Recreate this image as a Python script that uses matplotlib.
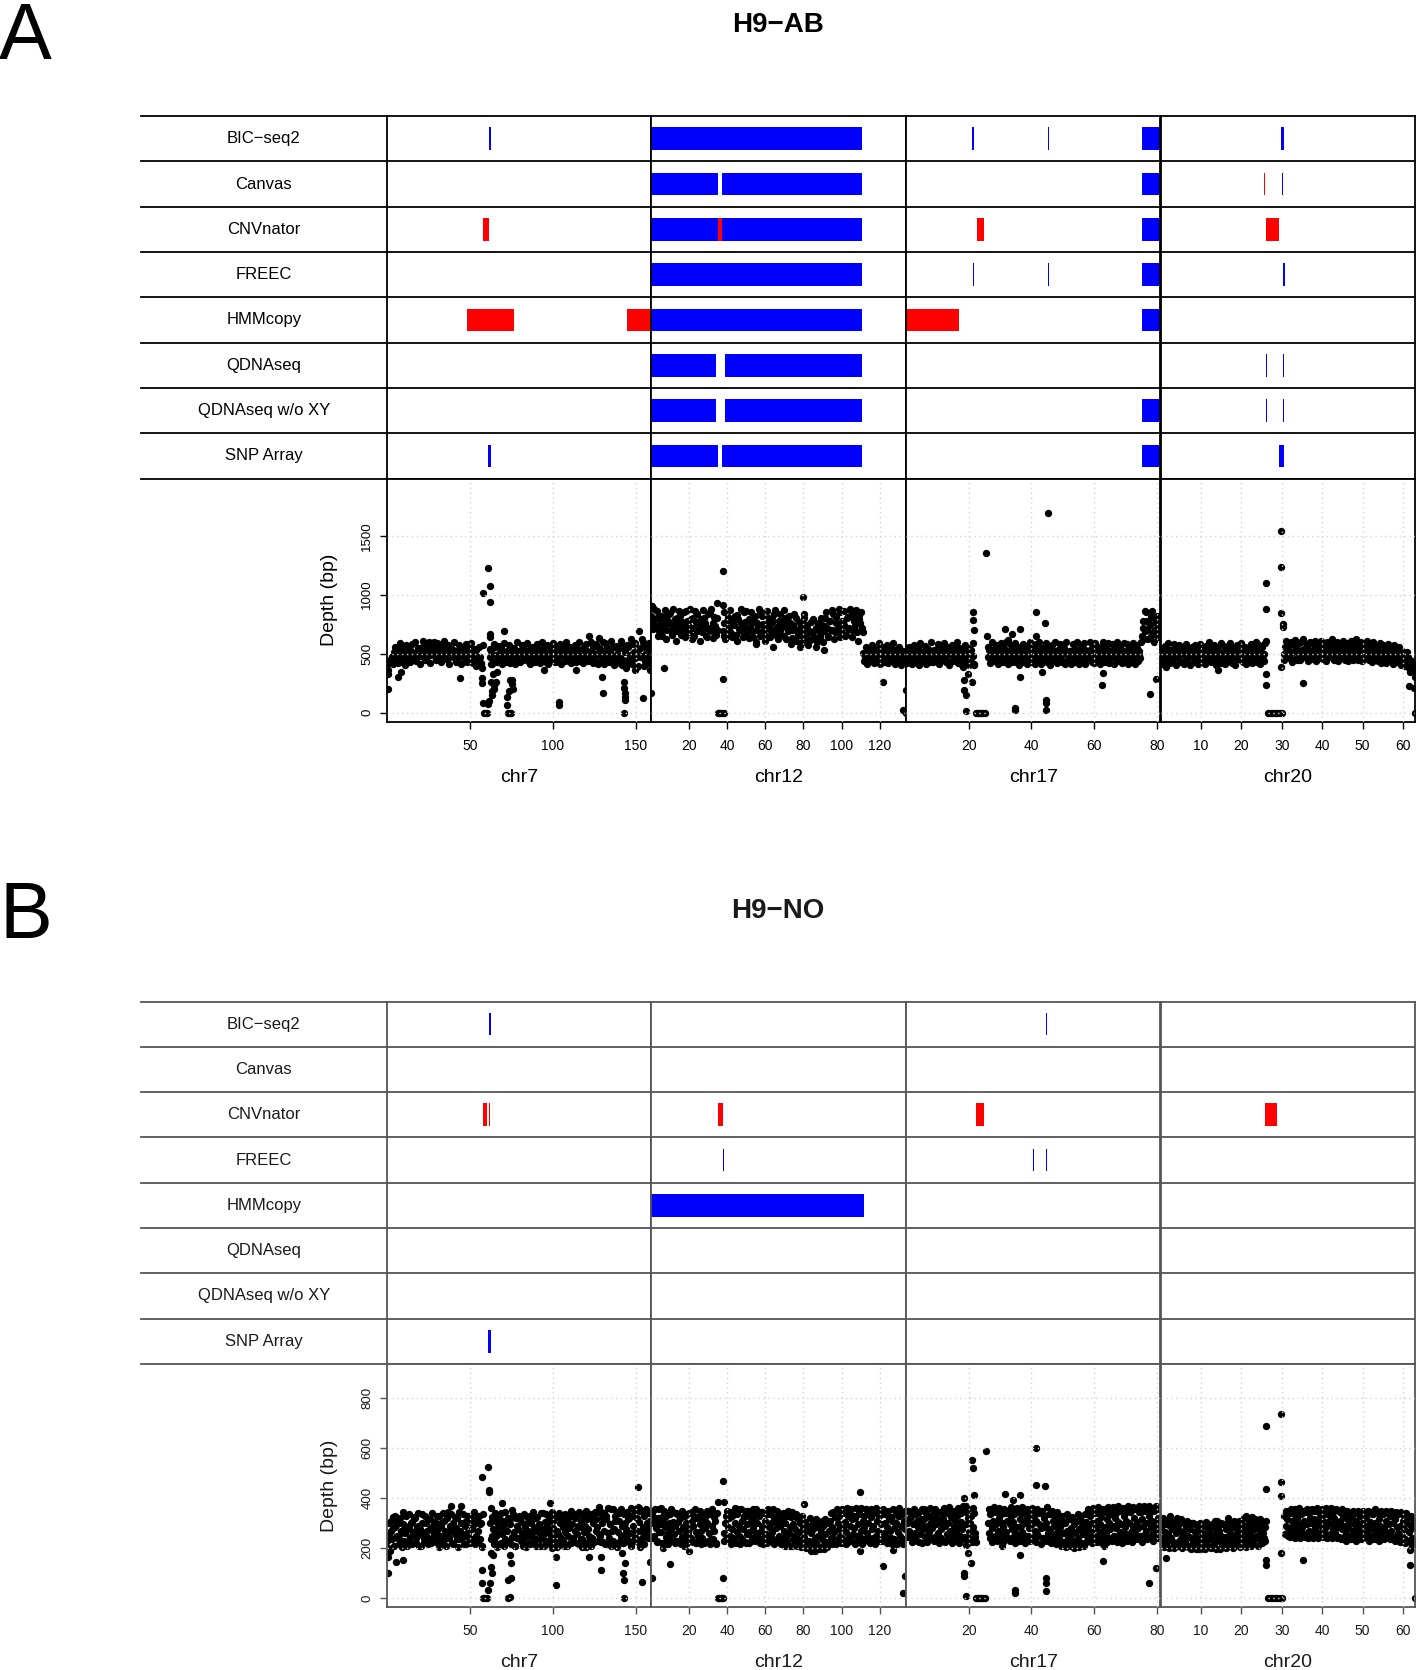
import numpy as np
import matplotlib.pyplot as plt

plt.rcParams['font.family'] = ['Liberation Sans', 'DejaVu Sans']

nan = np.nan

methods = ['BIC−seq2', 'Canvas', 'CNVnator', 'FREEC', 'HMMcopy',
           'QDNAseq', 'QDNAseq w/o XY', 'SNP Array']
chroms = ['chr7', 'chr12', 'chr17', 'chr20']
chrom_len = [159.1, 133.85, 81.2, 63.03]
chrom_ticks = [[50, 100, 150], [20, 40, 60, 80, 100, 120],
               [20, 40, 60, 80], [10, 20, 30, 40, 50, 60]]

# CNV calls: (method, chromosome, start Mb, end Mb, kind)
calls_ab = [
    ('BIC−seq2', 'chr7', 61.8, 62.5, 'gain'),
    ('BIC−seq2', 'chr12', 0.0, 110.9, 'gain'),
    ('BIC−seq2', 'chr17', 21.1, 21.7, 'gain'),
    ('BIC−seq2', 'chr17', 45.2, 45.5, 'gain'),
    ('BIC−seq2', 'chr17', 75.2, 81.2, 'gain'),
    ('BIC−seq2', 'chr20', 29.9, 30.6, 'gain'),
    ('Canvas', 'chr7', 62.0, 62.4, 'gain'),
    ('Canvas', 'chr12', 0.0, 35.0, 'gain'),
    ('Canvas', 'chr12', 37.6, 110.9, 'gain'),
    ('Canvas', 'chr17', 43.9, 44.1, 'loss'),
    ('Canvas', 'chr17', 44.5, 44.7, 'loss'),
    ('Canvas', 'chr17', 75.2, 81.2, 'gain'),
    ('Canvas', 'chr20', 25.6, 25.9, 'loss'),
    ('Canvas', 'chr20', 30.1, 30.4, 'gain'),
    ('CNVnator', 'chr7', 57.8, 61.3, 'loss'),
    ('CNVnator', 'chr12', 0.0, 35.2, 'gain'),
    ('CNVnator', 'chr12', 35.2, 37.6, 'loss'),
    ('CNVnator', 'chr12', 37.6, 110.9, 'gain'),
    ('CNVnator', 'chr17', 22.7, 25.0, 'loss'),
    ('CNVnator', 'chr17', 75.2, 81.2, 'gain'),
    ('CNVnator', 'chr20', 26.2, 29.4, 'loss'),
    ('FREEC', 'chr7', 62.0, 62.4, 'gain'),
    ('FREEC', 'chr12', 0.0, 110.9, 'gain'),
    ('FREEC', 'chr17', 21.2, 21.6, 'gain'),
    ('FREEC', 'chr17', 45.2, 45.6, 'gain'),
    ('FREEC', 'chr17', 75.2, 81.2, 'gain'),
    ('FREEC', 'chr20', 30.3, 30.7, 'gain'),
    ('HMMcopy', 'chr7', 48.5, 76.6, 'loss'),
    ('HMMcopy', 'chr7', 144.6, 159.1, 'loss'),
    ('HMMcopy', 'chr12', 0.0, 110.9, 'gain'),
    ('HMMcopy', 'chr17', 0.0, 16.7, 'loss'),
    ('HMMcopy', 'chr17', 75.2, 81.2, 'gain'),
    ('QDNAseq', 'chr12', 0.0, 34.0, 'gain'),
    ('QDNAseq', 'chr12', 38.9, 110.9, 'gain'),
    ('QDNAseq', 'chr20', 26.2, 26.45, 'gain'),
    ('QDNAseq', 'chr20', 30.2, 30.5, 'gain'),
    ('QDNAseq w/o XY', 'chr12', 0.0, 34.0, 'gain'),
    ('QDNAseq w/o XY', 'chr12', 38.9, 110.9, 'gain'),
    ('QDNAseq w/o XY', 'chr17', 75.2, 81.2, 'gain'),
    ('QDNAseq w/o XY', 'chr20', 26.2, 26.45, 'gain'),
    ('QDNAseq w/o XY', 'chr20', 30.2, 30.5, 'gain'),
    ('SNP Array', 'chr7', 60.8, 62.6, 'gain'),
    ('SNP Array', 'chr12', 0.0, 35.0, 'gain'),
    ('SNP Array', 'chr12', 37.6, 110.9, 'gain'),
    ('SNP Array', 'chr17', 75.2, 81.2, 'gain'),
    ('SNP Array', 'chr20', 29.4, 30.5, 'gain'),
]

calls_no = [
    ('BIC−seq2', 'chr7', 61.7, 62.7, 'gain'),
    ('BIC−seq2', 'chr17', 44.75, 45.0, 'gain'),
    ('Canvas', 'chr7', 62.1, 62.35, 'gain'),
    ('CNVnator', 'chr7', 58.0, 60.4, 'loss'),
    ('CNVnator', 'chr7', 61.4, 62.1, 'loss'),
    ('CNVnator', 'chr12', 35.1, 37.9, 'loss'),
    ('CNVnator', 'chr17', 22.3, 24.9, 'loss'),
    ('CNVnator', 'chr20', 25.9, 28.9, 'loss'),
    ('FREEC', 'chr7', 62.0, 62.4, 'gain'),
    ('FREEC', 'chr12', 37.9, 38.3, 'gain'),
    ('FREEC', 'chr17', 40.6, 40.95, 'gain'),
    ('FREEC', 'chr17', 44.75, 45.1, 'gain'),
    ('HMMcopy', 'chr12', 0.0, 111.8, 'gain'),
    ('SNP Array', 'chr7', 61.2, 62.6, 'gain'),
]

# binned read depth: two interleaved half-bins per bin along each chromosome
# (nan = no data, e.g. centromere)
depth_ab_chr7 = [
    360, 420, 455, 470, 512, 448, 530, 475, 560, 433, 498, 520, 465, 541, 480, 582, 452, 505, 470, 528,
    545, 492, 580, 515, 468, 598, 530, 486, 552, 505, 590, 472, 535, 560, 498, 520, 455, 512, 488, 540,
    470, 525, 446, 503, 560, 478, 520, 436, 497, 548, 465, 510, 420, 485, 530, 452, 470, 420, nan, nan,
    nan, nan, 470, 520, 455, 560, 490, 438, 512, 545, 470, 505, 430, 488, 532, 462, 515, 550, 478, 440,
    520, 495, 560, 468, 505, 438, 528, 486, 470, 552, 498, 445, 515, 480, 540, 462, 506, 575, 488, 452,
    520, 470, 495, 548, 432, 510, 485, 560, 468, 502, 440, 530, 492, 458, 545, 478, 515, 436, 498, 560,
    470, 525, 488, 445, 510, 552, 476, 500, 430, 538, 492, 465, 590, 505, 448, 520, 478, 560, 412, 498,
    535, 470, 590, 445, 512, 400, 560, 488, 430, 580, 465, 520, 395, 548, 476, 600, 440, 505, 420, 530]
depth_ab_chr7_b = [
    330, 440, 470, 410, 560, 505, 420, 590, 455, 515, 400, 570, 490, 430, 525, 465, 600, 440, 545, 410,
    480, 610, 445, 530, 590, 420, 560, 495, 600, 450, 520, 585, 430, 475, 610, 455, 570, 415, 540, 480,
    595, 430, 505, 570, 415, 540, 460, 585, 425, 510, 590, 430, 540, 395, 475, 560, 410, 380, nan, nan,
    nan, nan, 540, 410, 585, 470, 425, 565, 500, 410, 590, 445, 525, 575, 420, 545, 470, 415, 600, 505,
    430, 575, 445, 520, 590, 470, 410, 560, 505, 425, 580, 540, 420, 595, 455, 510, 430, 415, 560, 500,
    590, 425, 545, 460, 585, 415, 530, 440, 595, 470, 560, 420, 505, 575, 430, 540, 600, 470, 420, 530,
    585, 440, 505, 600, 420, 470, 580, 415, 545, 480, 600, 410, 515, 560, 430, 610, 455, 400, 565, 440,
    470, 610, 405, 540, 380, 575, 455, 620, 410, 510, 590, 385, 540, 470, 620, 395, 560, 460, 590, 360]
depth_ab_chr12 = [
    820, 760, 880, 730, 805, 690, 770, 650, 740, 810, 700, 760, 845, 660, 725, 790, 690, 750, 820, 655,
    735, 700, 860, 745, 680, 790, 720, 650, 770, 835, 705, 745, 680, 800, 760, 640, 720, 850, 690, 760,
    730, 700, nan, nan, nan, 690, 760, 640, 810, 720, 675, 780, 745, 660, 830, 705, 760, 690, 850, 735,
    670, 790, 720, 760, 640, 815, 700, 745, 860, 685, 755, 720, 650, 800, 735, 690, 770, 840, 660, 725,
    780, 700, 745, 650, 805, 720, 690, 760, 630, 740, 700, 805, 660, 720, 590, 690, 750, 640, 700, 610,
    765, 680, 640, 720, 600, 705, 660, 745, 690, 800, 720, 650, 780, 700, 835, 680, 760, 725, 850, 690,
    770, 740, 660, 810, 720, 865, 700, 780, 745, 680, 830, 760, 720, 505, 470, 540, 455, 520, 480, 445,
    510, 495, 550, 465, 500, 430, 525, 480, 545, 460, 505, 490, 440, 530, 470, 515, 455, 500, 470, 430]
depth_ab_chr12_b = [
    900, 710, 790, 860, 650, 745, 820, 700, 870, 620, 780, 840, 690, 880, 740, 610, 800, 860, 700, 770,
    850, 640, 780, 700, 880, 620, 800, 860, 690, 760, 610, 790, 870, 720, 650, 840, 700, 880, 630, 810,
    660, 800, nan, nan, nan, 850, 620, 780, 700, 870, 640, 760, 820, 610, 790, 700, 880, 640, 770, 860,
    720, 630, 850, 690, 800, 600, 760, 880, 650, 820, 700, 610, 860, 760, 640, 800, 690, 870, 720, 620,
    840, 660, 780, 870, 620, 760, 820, 580, 700, 840, 610, 690, 770, 560, 650, 800, 600, 740, 570, 680,
    620, 790, 700, 560, 760, 640, 800, 600, 730, 850, 640, 780, 700, 870, 620, 810, 690, 880, 640, 780,
    860, 650, 800, 710, 880, 640, 820, 700, 870, 610, 790, 850, 680, 440, 560, 410, 530, 460, 575, 420,
    540, 450, 590, 410, 560, 480, 430, 570, 420, 545, 470, 590, 415, 530, 450, 560, 405, 520, 440, 470]
depth_ab_chr17 = [
    470, 520, 455, 540, 490, 430, 505, 560, 475, 445, 515, 498, 545, 460, 510, 430, 488, 530, 470, 505,
    550, 440, 495, 520, 465, 480, 540, 425, 500, 470, 515, 455, 535, 490, 410, 485, 520, 460, 440, 505,
    470, 420, 480, nan, nan, nan, nan, nan, nan, nan, nan, 470, 530, 455, 505, 540, 480, 445, 520, 495,
    560, 470, 505, 440, 525, 488, 460, 545, 500, 430, 515, 478, 540, 455, 500, 525, 465, 490, 430, 510,
    545, 470, 500, 455, 530, 488, 520, 440, 505, 560, 475, 495, 445, 520, 480, 530, 460, 505, 490, 550,
    435, 510, 475, 525, 460, 498, 540, 470, 445, 515, 500, 480, 530, 455, 505, 470, 540, 490, 420, 520,
    475, 500, 545, 460, 515, 480, 430, 505, 525, 470, 490, 545, 455, 510, 480, 440, 520, 495, 465, 530,
    480, 505, 450, 520, 470, 545, 490, 460, 650, 720, 690, 780, 620, 740, 810, 680, 700, 760, 640, 710]
depth_ab_chr17_b = [
    420, 560, 500, 410, 575, 455, 530, 405, 590, 480, 440, 565, 415, 540, 470, 600, 430, 520, 455, 580,
    410, 535, 470, 590, 430, 560, 405, 515, 575, 440, 490, 600, 420, 545, 465, 385, 570, 430, 550, 400,
    530, 590, 410, nan, nan, nan, nan, nan, nan, nan, nan, 560, 420, 595, 440, 510, 575, 415, 470, 590,
    430, 545, 600, 410, 480, 570, 425, 515, 590, 460, 405, 560, 430, 585, 470, 410, 555, 600, 440, 520,
    415, 580, 445, 600, 410, 545, 470, 590, 425, 530, 405, 575, 455, 600, 420, 510, 580, 430, 560, 410,
    595, 445, 520, 410, 580, 430, 470, 600, 415, 555, 440, 590, 410, 525, 470, 595, 425, 545, 590, 430,
    560, 415, 470, 600, 430, 550, 590, 420, 470, 585, 410, 530, 600, 440, 555, 420, 590, 445, 580, 410,
    555, 430, 590, 410, 575, 440, 520, 600, 780, 620, 850, 700, 760, 650, 860, 600, 790, 820, 660, 740]
depth_ab_chr20 = [
    480, 430, 505, 470, 540, 455, 500, 520, 465, 490, 545, 475, 440, 510, 495, 530, 460, 505, 480, 550,
    470, 515, 445, 500, 535, 485, 460, 520, 495, 440, 510, 475, 545, 490, 455, 505, 530, 470, 420, 500,
    520, 465, 490, 540, 455, 510, 480, 525, 470, 500, 445, 530, 485, 510, 460, 495, 540, 475, 505, 450,
    520, 490, 470, 510, 455, 500, nan, nan, nan, nan, nan, nan, nan, nan, nan, nan, nan, 500, 560, 470,
    530, 495, 580, 510, 455, 545, 520, 490, 600, 475, 535, 505, 560, 480, 520, 590, 495, 545, 470, 515,
    560, 500, 530, 475, 550, 510, 485, 570, 520, 495, 540, 465, 505, 555, 490, 520, 475, 545, 500, 460,
    530, 510, 485, 550, 470, 505, 525, 480, 540, 495, 455, 515, 500, 470, 535, 490, 460, 520, 480, 505,
    445, 495, 530, 470, 510, 455, 490, 520, 440, 500, 470, 430, 480, 455, 420, 470, 430, 440, 380, 400]
depth_ab_chr20_b = [
    540, 410, 565, 445, 590, 420, 530, 455, 580, 405, 510, 570, 430, 555, 415, 585, 440, 520, 400, 560,
    425, 575, 495, 410, 580, 450, 540, 415, 565, 470, 600, 430, 520, 575, 405, 545, 460, 590, 430, 565,
    410, 560, 440, 590, 420, 545, 400, 570, 455, 520, 590, 430, 560, 415, 545, 440, 580, 420, 550, 600,
    430, 570, 410, 560, 440, 590, nan, nan, nan, nan, nan, nan, nan, nan, nan, nan, nan, 450, 610, 540,
    460, 600, 430, 575, 615, 450, 590, 445, 530, 620, 470, 585, 440, 600, 455, 530, 610, 440, 580, 460,
    605, 455, 580, 440, 600, 470, 545, 620, 445, 575, 600, 440, 560, 470, 610, 450, 590, 440, 570, 610,
    450, 580, 620, 445, 560, 600, 440, 590, 470, 610, 445, 575, 430, 600, 455, 560, 440, 590, 420, 570,
    545, 420, 580, 450, 540, 410, 570, 430, 500, 560, 400, 520, 450, 395, 510, 380, 450, 350, 410, 300]

depth_no_chr7 = [
    230, 300, 190, 270, 325, 210, 285, 250, 310, 235, 270, 205, 295, 260, 330, 225, 280, 245, 300, 215,
    265, 320, 240, 290, 210, 275, 335, 250, 225, 300, 270, 240, 315, 220, 285, 260, 305, 235, 275, 330,
    250, 290, 225, 310, 270, 240, 345, 265, 290, 220, 300, 255, 280, 320, 235, 270, 300, 245, 215, 290,
    330, 260, 240, 305, 275, 225, 295, 250, 320, 270, 235, 300, 210, nan, nan, nan, nan, nan, 300, 250,
    275, 230, 310, 265, 290, 215, 340, 255, 280, 235, 300, 270, 225, 295, 320, 245, 265, 210, 290, 275,
    240, 305, 260, 225, 285, 330, 250, 270, 215, 300, 245, 280, 320, 235, 265, 295, 210, 275, 340, 255,
    230, 290, 265, 310, 245, 200, 280, 255, 325, 270, 225, 300, 240, 285, 210, 265, 305, 250, 280, 220,
    295, 240, 270, 330, 255, 215, 285, 310, 235, 265, 290, 205, 275, 250, 320, 240, 300, 225, 270, 285,
    345, 250, 225, 300, 270, 215, 330, 260, 240, 295, 355, 230, 275, 310, 205, 265, 340, 250, 290, 220,
    300, 275, 235, 320, 260, 210, 290, 335, 245, 270, 225, 305, 350, 240, 285, 330, 260, 300, 340, 280]
depth_no_chr7_b = [
    200, 255, 310, 235, 280, 330, 245, 295, 215, 320, 260, 345, 230, 290, 210, 275, 335, 240, 305, 265,
    325, 220, 285, 340, 255, 210, 300, 240, 330, 265, 215, 315, 275, 340, 245, 295, 225, 330, 250, 205,
    300, 225, 340, 250, 210, 320, 240, 290, 335, 215, 265, 325, 235, 205, 345, 240, 255, 335, 305, 215,
    260, 330, 220, 320, 235, 345, 215, 315, 230, 330, 295, 205, 335, nan, nan, nan, nan, nan, 235, 325,
    215, 340, 250, 205, 330, 290, 220, 310, 210, 345, 230, 320, 295, 215, 245, 335, 210, 320, 240, 330,
    315, 230, 210, 335, 245, 205, 305, 220, 330, 260, 345, 225, 210, 325, 290, 235, 340, 250, 210, 305,
    335, 220, 320, 215, 345, 310, 230, 330, 205, 255, 340, 215, 315, 230, 335, 320, 210, 325, 220, 350,
    225, 335, 320, 220, 290, 345, 235, 205, 330, 215, 350, 315, 225, 335, 210, 325, 230, 345, 315, 230,
    255, 350, 325, 225, 340, 315, 215, 360, 295, 210, 270, 355, 330, 215, 345, 310, 230, 355, 220, 335,
    255, 345, 315, 225, 360, 330, 230, 265, 355, 320, 360, 230, 270, 350, 215, 260, 355, 240, 275, 310]
depth_no_chr12 = [
    300, 340, 250, 320, 280, 230, 355, 295, 265, 310, 220, 285, 330, 260, 300, 240, 275, 345, 255, 290,
    230, 305, 270, 320, 245, 285, 210, 300, 335, 260, 275, 240, 310, 290, 225, 265, 320, 250, 295, 270,
    240, 315, 280, 225, 300, 260, 345, 235, 290, 270, 310, 215, nan, nan, nan, nan, nan, 260, 300, 235,
    285, 320, 250, 275, 340, 230, 300, 265, 355, 290, 245, 310, 275, 330, 220, 295, 350, 265, 305, 240,
    280, 325, 260, 300, 235, 345, 270, 290, 215, 310, 255, 335, 285, 240, 300, 265, 320, 230, 280, 305,
    250, 290, 315, 225, 270, 300, 245, 330, 260, 285, 210, 295, 250, 275, 320, 235, 265, 300, 220, 280,
    245, 270, 215, 290, 230, 260, 195, 275, 240, 220, 285, 250, 200, 265, 235, 290, 255, 225, 300, 270,
    310, 240, 285, 265, 325, 230, 300, 275, 250, 340, 285, 220, 305, 265, 330, 245, 290, 315, 255, 280,
    320, 250, 295, 340, 270, 230, 310, 285, 355, 260, 300, 240, 325, 275, 290, 345, 250, 310, 270, 230,
    295, 335, 260, 300, 245, 285, 320, 270, 240, 310, 280, 215, 300, 265, 330, 250, 290, 235, 310, 275]
depth_no_chr12_b = [
    345, 240, 300, 355, 225, 320, 265, 360, 220, 330, 350, 245, 290, 215, 335, 355, 235, 305, 220, 340,
    335, 225, 320, 215, 350, 240, 330, 265, 220, 340, 235, 345, 225, 330, 355, 220, 325, 230, 350, 215,
    335, 220, 325, 350, 230, 335, 215, 355, 235, 325, 220, 340, nan, nan, nan, nan, nan, 230, 330, 350,
    235, 345, 215, 330, 240, 360, 220, 335, 250, 215, 355, 235, 325, 225, 350, 255, 220, 325, 230, 355,
    335, 230, 355, 245, 330, 220, 345, 235, 340, 250, 220, 355, 230, 335, 240, 355, 215, 330, 350, 235,
    325, 215, 240, 340, 210, 330, 225, 350, 210, 325, 345, 235, 220, 335, 210, 320, 230, 205, 330, 220,
    305, 200, 290, 210, 320, 190, 300, 215, 190, 315, 210, 300, 195, 310, 210, 195, 315, 205, 300, 220,
    340, 215, 345, 235, 215, 355, 230, 330, 220, 355, 235, 340, 215, 360, 225, 335, 355, 230, 330, 215,
    360, 225, 335, 245, 360, 215, 330, 235, 355, 230, 345, 220, 355, 240, 340, 215, 360, 235, 330, 350,
    230, 355, 245, 335, 220, 350, 235, 325, 215, 355, 235, 340, 215, 330, 360, 230, 335, 215, 350, 235]
depth_no_chr17 = [
    300, 350, 270, 320, 240, 295, 335, 260, 310, 285, 225, 300, 355, 275, 315, 250, 290, 330, 265, 305,
    280, 240, 320, 295, 345, 260, 305, 275, 230, 315, 290, 340, 255, 300, 270, 325, 245, 290, 310, 265,
    330, 285, 250, 305, 275, 360, 240, 295, 320, 265, 300, 230, 285, 340, 260, nan, nan, nan, nan, nan,
    nan, nan, nan, nan, 300, 260, 335, 280, 310, 245, 295, 350, 270, 320, 255, 300, 285, 340, 265, 310,
    240, 295, 330, 275, 305, 260, 350, 285, 230, 315, 290, 265, 340, 300, 250, 320, 280, 305, 245, 295,
    330, 270, 310, 255, 295, 345, 280, 240, 320, 285, 300, 260, 335, 275, 230, 310, 290, 255, 300, 270,
    240, 285, 310, 260, 225, 300, 270, 245, 320, 280, 255, 230, 295, 265, 310, 240, 275, 220, 290, 255,
    270, 305, 250, 285, 330, 265, 300, 240, 345, 280, 310, 255, 295, 325, 270, 350, 285, 260, 315, 300,
    275, 335, 290, 250, 320, 280, 305, 360, 265, 295, 240, 330, 285, 310, 255, 300, 345, 270, 290, 320,
    260, 305, 280, 345, 250, 315, 290, 370, 270, 300, 240, 330, 285, 310, 260, 350, 295, 275, 320, 300]
depth_no_chr17_b = [
    245, 350, 260, 330, 225, 355, 250, 335, 230, 345, 255, 315, 220, 355, 245, 340, 225, 330, 360, 240,
    335, 230, 355, 250, 315, 220, 345, 240, 335, 360, 225, 340, 235, 365, 255, 220, 350, 235, 340, 245,
    360, 220, 340, 235, 370, 245, 345, 215, 355, 240, 330, 225, 360, 245, 225, nan, nan, nan, nan, nan,
    nan, nan, nan, nan, 355, 240, 340, 225, 365, 250, 345, 230, 360, 245, 335, 225, 355, 250, 340, 235,
    350, 230, 365, 245, 335, 220, 360, 250, 345, 230, 365, 240, 340, 220, 355, 250, 335, 230, 360, 245,
    345, 225, 355, 250, 340, 215, 350, 240, 330, 230, 365, 245, 335, 220, 350, 240, 330, 215, 345, 230,
    320, 210, 330, 225, 305, 205, 335, 215, 315, 210, 325, 200, 310, 220, 335, 205, 320, 220, 305, 210,
    335, 225, 355, 240, 345, 220, 360, 250, 340, 225, 365, 235, 335, 220, 355, 245, 345, 225, 365, 240,
    345, 230, 365, 250, 340, 225, 370, 240, 350, 220, 360, 255, 345, 230, 370, 245, 350, 225, 365, 250,
    355, 235, 370, 250, 345, 225, 365, 255, 350, 235, 370, 245, 350, 230, 360, 250, 370, 240, 355, 250]
depth_no_chr20 = [
    280, 240, 310, 265, 220, 295, 255, 330, 240, 275, 210, 300, 260, 285, 230, 270, 315, 245, 265, 225,
    290, 250, 210, 275, 240, 300, 225, 265, 245, 195, 280, 235, 260, 215, 290, 250, 230, 270, 205, 255,
    240, 285, 220, 260, 310, 235, 270, 250, 215, 295, 245, 275, 230, 320, 260, 240, 285, 225, 300, 255,
    275, 235, 310, 260, 290, 225, 270, 330, 245, 285, 255, 300, 240, 275, 315, 250, 290, 235, 270, 300,
    260, 240, 285, nan, nan, nan, nan, nan, nan, nan, nan, nan, nan, nan, nan, nan, nan, 330, 290, 315,
    280, 340, 265, 310, 290, 355, 275, 320, 300, 260, 335, 285, 310, 250, 345, 295, 270, 320, 300, 265,
    315, 280, 350, 300, 260, 325, 290, 310, 265, 340, 285, 305, 250, 330, 295, 275, 320, 260, 300, 285,
    245, 310, 275, 330, 290, 255, 315, 280, 300, 240, 325, 270, 295, 310, 260, 285, 335, 265, 300, 250,
    290, 320, 265, 240, 305, 280, 335, 255, 300, 275, 245, 315, 290, 260, 340, 285, 270, 310, 250, 295,
    330, 270, 300, 245, 315, 285, 260, 340, 290, 250, 310, 275, 235, 300, 325, 265, 290, 240, 280, 305]
depth_no_chr20_b = [
    215, 320, 205, 295, 240, 310, 200, 290, 230, 305, 200, 280, 320, 210, 295, 235, 200, 305, 215, 285,
    310, 205, 285, 195, 300, 220, 295, 195, 290, 225, 300, 195, 295, 230, 195, 305, 210, 285, 235, 200,
    295, 215, 310, 195, 285, 230, 195, 300, 205, 295, 230, 200, 305, 210, 290, 235, 200, 310, 215, 300,
    225, 310, 205, 295, 235, 320, 205, 290, 230, 310, 210, 325, 220, 295, 240, 310, 210, 315, 240, 220,
    295, 230, 310, nan, nan, nan, nan, nan, nan, nan, nan, nan, nan, nan, nan, nan, nan, 255, 350, 250,
    345, 245, 355, 250, 335, 240, 350, 255, 360, 240, 340, 260, 350, 245, 355, 240, 340, 260, 355, 240,
    350, 250, 360, 240, 345, 255, 355, 245, 335, 360, 240, 350, 255, 360, 240, 345, 250, 355, 240, 350,
    345, 235, 355, 245, 335, 230, 350, 250, 335, 235, 350, 240, 340, 230, 350, 245, 330, 235, 350, 250,
    335, 240, 350, 230, 345, 250, 335, 235, 355, 245, 340, 230, 350, 240, 335, 235, 350, 245, 340, 235,
    350, 240, 340, 230, 345, 250, 335, 225, 345, 235, 330, 220, 340, 230, 325, 225, 330, 210, 310, 215]

# isolated bins away from the main band: (position Mb, depth)
out_ab_chr7 = [
    (0.4, 204), (6.3, 302), (8.5, 345), (43.8, 297), (57.2, 250), (57.5, 290), (57.7, 80),
    (57.7, 1016), (58.0, 572), (58.3, 0), (59.5, 0), (60.4, 0), (61.1, 1223), (61.0, 70),
    (61.5, 100), (62.1, 1076), (62.0, 940), (62.2, 670), (62.3, 640), (62.5, 410), (62.8, 260),
    (63.2, 180), (63.5, 150), (64.0, 330), (64.3, 230), (64.8, 200), (65.5, 260), (66.5, 340),
    (70.4, 688), (72.2, 130), (72.6, 60), (73.0, 0), (73.5, 180), (74.0, 0), (74.4, 280),
    (74.8, 0), (75.2, 240), (75.6, 280), (76.0, 200), (94.8, 365), (103.5, 90), (103.5, 65),
    (114.0, 365), (121.6, 650), (127.9, 633), (130.0, 305), (130.6, 162), (143.0, 0),
    (143.1, 260), (143.2, 210), (143.3, 170), (143.4, 130), (143.5, 110), (149.5, 362),
    (152.2, 695), (154.6, 120)]
out_ab_chr12 = [
    (0.3, 165), (7.0, 380), (34.5, 700), (34.8, 927), (35.2, 0), (35.8, 0), (36.5, 0), (37.2, 0),
    (38.0, 1198), (38.0, 910), (38.3, 650), (38.5, 760), (38.0, 288), (38.2, 0), (55.0, 583),
    (64.0, 555), (80.0, 984), (80.2, 837), (90.6, 527), (121.8, 257), (132.2, 25), (133.5, 0),
    (133.5, 190)]
out_ab_chr17 = [
    (18.3, 273), (18.6, 189), (19.0, 147), (19.0, 14), (19.8, 324), (21.0, 260), (21.4, 849),
    (21.4, 787), (21.7, 696), (21.7, 400), (22.2, 0), (22.8, 0), (23.4, 0), (24.0, 0), (24.6, 0),
    (25.2, 0), (25.4, 1353), (25.7, 651), (31.4, 708), (32.5, 617), (33.7, 668), (34.8, 42),
    (34.8, 25), (36.4, 710), (36.4, 302), (41.5, 849), (41.5, 651), (43.5, 341), (44.3, 761),
    (44.6, 104), (44.6, 85), (44.6, 25), (45.3, 1689), (62.5, 231), (62.8, 335), (76.2, 863),
    (77.7, 155), (79.9, 288)]
out_ab_chr20 = [
    (1.4, 386), (14.3, 363), (26.0, 330), (26.2, 1099), (26.2, 880), (26.2, 606), (26.2, 231),
    (26.5, 0), (27.1, 0), (27.7, 0), (28.3, 0), (28.9, 0), (29.5, 0), (30.1, 0), (29.7, 1539),
    (29.9, 1232), (29.8, 843), (30.3, 753), (30.4, 724), (29.7, 386), (35.2, 254), (61.4, 223),
    (61.6, 344), (62.0, 428), (62.6, 210), (63.0, 0)]

out_no_chr7 = [
    (0.4, 99), (0.4, 166), (5.4, 146), (9.4, 152), (38.6, 370), (44.6, 370), (57.5, 486),
    (60.9, 526), (61.5, 433), (61.6, 426), (57.1, 112), (57.1, 61), (58.0, 0), (59.0, 0),
    (60.0, 0), (61.0, 32), (62.0, 59), (63.0, 125), (63.5, 99), (64.0, 172), (62.5, 179),
    (62.8, 360), (63.2, 310), (69.5, 379), (74.0, 172), (73.0, 72), (73.0, 0), (74.3, 5),
    (75.0, 139), (75.3, 352), (74.6, 80), (98.5, 379), (102.0, 52), (102.0, 166), (122.0, 166),
    (129.3, 112), (129.0, 166), (128.0, 366), (142.0, 179), (142.5, 99), (143.0, 72), (142.8, 0),
    (143.6, 139), (151.7, 446), (151.7, 366), (153.7, 65), (152.7, 206), (158.7, 146)]
out_no_chr12 = [
    (0.5, 80), (6.5, 200), (9.9, 135), (20.0, 190), (35.0, 383), (35.2, 0), (35.9, 0), (36.6, 0),
    (37.3, 0), (38.1, 470), (38.4, 383), (38.0, 80), (38.1, 0), (80.4, 377), (109.6, 424),
    (109.6, 190), (121.8, 127), (127.0, 193), (132.0, 20), (133.4, 87)]
out_no_chr17 = [
    (18.3, 400), (19.0, 367), (19.0, 213), (19.8, 180), (20.6, 140), (18.6, 100), (18.6, 87),
    (19.0, 9), (21.1, 553), (21.4, 520), (21.7, 413), (22.2, 0), (22.8, 0), (23.4, 0), (24.0, 0),
    (24.6, 0), (25.2, 0), (25.4, 587), (31.4, 416), (30.5, 209), (34.0, 393), (34.8, 33),
    (34.8, 20), (36.4, 411), (36.4, 173), (41.5, 599), (41.5, 453), (44.3, 447), (44.6, 80),
    (44.6, 60), (44.6, 29), (62.8, 148), (63.2, 207), (77.5, 60), (79.8, 120)]
out_no_chr20 = [
    (1.4, 161), (26.2, 689), (26.2, 436), (26.0, 153), (26.0, 133), (29.7, 736), (29.9, 464),
    (29.7, 407), (29.7, 180), (26.5, 0), (27.1, 0), (27.7, 0), (28.3, 0), (28.9, 0), (29.5, 0),
    (30.1, 0), (35.2, 153), (61.6, 193), (61.6, 133), (63.0, 0)]

W, H = 1417, 1670
fig = plt.figure(figsize=(W / 100, H / 100), dpi=100)


def box(x0, y0, x1, y1):
    return [x0 / W, 1 - y1 / H, (x1 - x0) / W, (y1 - y0) / H]


LAB_X0 = 140.6
BOUNDS = [387.1, 650.7, 906.2, 1160.5, 1415.3]
ROW_H = 45.3
DEPTH_H = 243.5
DOT = 28
kind_col = {'gain': '#0000ff', 'loss': '#ff0000'}


def draw_panel(letter, title, letter_y, title_y, top, calls, depth, depth_b, outliers,
               ylim, yticks, line_col, text_col):
    tab_bot = top + 8 * ROW_H
    dep_bot = tab_bot + DEPTH_H

    fig.text(-1 / W, 1 - letter_y / H, letter, ha='left', va='baseline', fontsize=57)
    fig.text(777.7 / W, 1 - title_y / H, title, ha='center', va='baseline',
             fontsize=20, fontweight='bold', color=text_col)

    lab = fig.add_axes(box(LAB_X0, top, BOUNDS[0], tab_bot))
    lab.set_xlim(0, 1)
    lab.set_ylim(8, 0)
    lab.axis('off')
    for r in range(9):
        lab.axhline(r, color=line_col, lw=1.3, clip_on=False)
    for r, m in enumerate(methods):
        lab.text(0.5, r + 0.5, m, ha='center', va='center', fontsize=12, color=text_col)

    for i, (ch, L) in enumerate(zip(chroms, chrom_len)):
        ax = fig.add_axes(box(BOUNDS[i], top, BOUNDS[i + 1], tab_bot))
        ax.set_xlim(0, L)
        ax.set_ylim(8, 0)
        ax.set_xticks([])
        ax.set_yticks([])
        for sp in ax.spines.values():
            sp.set_color(line_col)
            sp.set_linewidth(1.3)
        for r in range(1, 8):
            ax.axhline(r, color=line_col, lw=1.3)
        for m, c, s0, s1, kind in calls:
            if c == ch:
                r = methods.index(m)
                ax.broken_barh([(s0, s1 - s0)], (r + 0.25, 0.5),
                               facecolors=kind_col[kind], edgecolor='none')

        dx = fig.add_axes(box(BOUNDS[i], tab_bot, BOUNDS[i + 1], dep_bot))
        v1 = np.array(depth[i], float)
        v2 = np.array(depth_b[i], float)
        step = L / len(v1)
        dx.scatter((np.arange(len(v1)) + 0.25) * step, v1, s=DOT, c='k', linewidths=0)
        dx.scatter((np.arange(len(v2)) + 0.75) * step, v2, s=DOT, c='k', linewidths=0)
        ox, oy = zip(*outliers[i])
        dx.scatter(ox, oy, s=DOT, c='k', linewidths=0)
        dx.set_xlim(0, L)
        dx.set_ylim(*ylim)
        dx.set_xticks(chrom_ticks[i])
        dx.set_yticks(yticks)
        dx.set_axisbelow(False)
        dx.grid(True, color='#d3d3d3', lw=1, linestyle=(0, (1, 2.5)))
        for sp in dx.spines.values():
            sp.set_color(line_col)
            sp.set_linewidth(1.3)
        dx.tick_params(axis='x', direction='out', length=5, width=1, pad=7,
                       labelsize=10, color=line_col, labelcolor=text_col)
        if i == 0:
            dx.tick_params(axis='y', direction='out', length=5, width=1, pad=5,
                           labelsize=9.5, labelrotation=90, color=line_col,
                           labelcolor=text_col)
            for lbl in dx.get_yticklabels():
                lbl.set_va('center')
        else:
            dx.tick_params(axis='y', left=False, labelleft=False)
        dx.annotate(ch, xy=(0.5, 0), xycoords='axes fraction', xytext=(0, -39.6),
                    textcoords='offset points', ha='center', va='center',
                    fontsize=14, color=text_col)

    fig.text(330 / W, 1 - (tab_bot + DEPTH_H / 2) / H, 'Depth (bp)', rotation=90,
             ha='center', va='center', fontsize=14, color=text_col)


draw_panel('A', 'H9−AB', 58.6, 32.0, 116.1, calls_ab,
           [depth_ab_chr7, depth_ab_chr12, depth_ab_chr17, depth_ab_chr20],
           [depth_ab_chr7_b, depth_ab_chr12_b, depth_ab_chr17_b, depth_ab_chr20_b],
           [out_ab_chr7, out_ab_chr12, out_ab_chr17, out_ab_chr20],
           (-80, 1985), [0, 500, 1000, 1500], 'black', 'black')
draw_panel('B', 'H9−NO', 937.6, 918.4, 1001.5, calls_no,
           [depth_no_chr7, depth_no_chr12, depth_no_chr17, depth_no_chr20],
           [depth_no_chr7_b, depth_no_chr12_b, depth_no_chr17_b, depth_no_chr20_b],
           [out_no_chr7, out_no_chr12, out_no_chr17, out_no_chr20],
           (-37, 936), [0, 200, 400, 600, 800], '#555555', '#1a1a1a')

fig.savefig('out.png', dpi=100)
